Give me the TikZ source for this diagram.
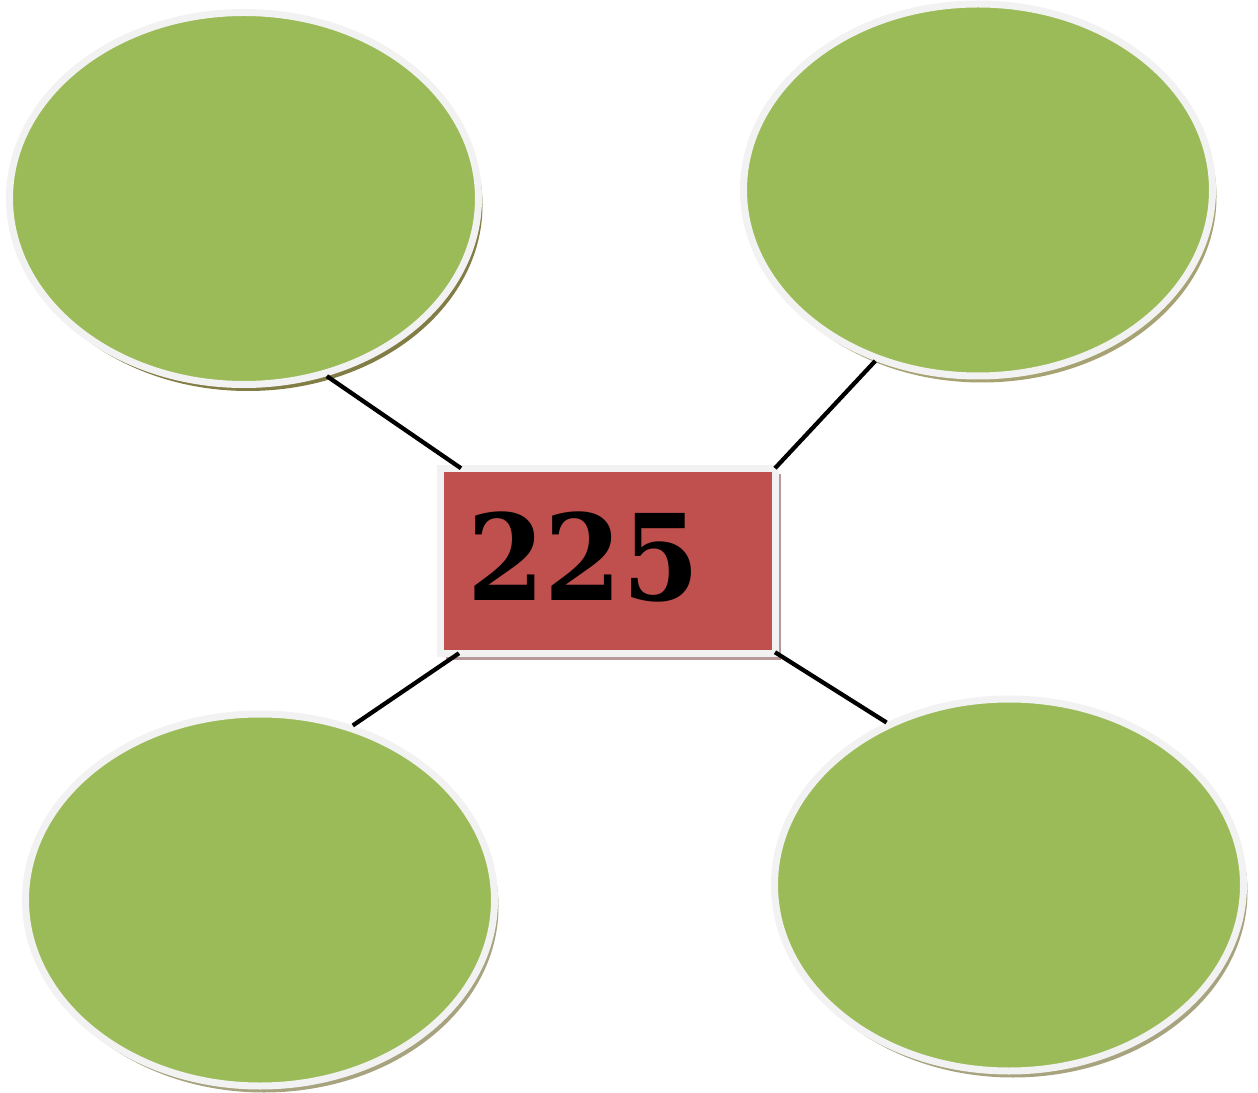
\documentclass[tikz,border=0pt]{standalone}
\usepackage{fontspec}
\usepackage{tikz}
\usetikzlibrary{shapes.geometric,shadows}
\newfontfamily\numfont{DejaVu Serif}
\definecolor{bubblegreen}{HTML}{9BBB59}
\definecolor{boxred}{HTML}{C0504D}
\definecolor{rimgray}{HTML}{F2F2F2}
\tikzset{
    bubble/.style={ellipse, fill=bubblegreen, draw=rimgray, line width=0.14cm,
        minimum width=9.38cm, minimum height=7.44cm, inner sep=0pt,
        drop shadow={shadow xshift=0.08cm, shadow yshift=-0.13cm, fill=#1, opacity=1}},
    bubble/.default={olive!60!black!80},
    numbox/.style={rectangle, fill=boxred, draw=rimgray, line width=0.14cm,
        minimum width=6.7cm, minimum height=3.71cm, inner sep=0pt,
        drop shadow={shadow xshift=0.1cm, shadow yshift=-0.12cm, fill=boxred!40!gray!70, opacity=1}},
    link/.style={black, line width=0.085cm},
}
\begin{document}
\begin{tikzpicture}
\useasboundingbox (0,0) rectangle (25.16,-21.86);

\node[bubble] (tl) at (4.88,-3.97) {};
\node[bubble=olive!40!gray!80] (tr) at (19.56,-3.80) {};
\node[bubble=olive!30!gray!80] (bl) at (5.20,-18.00) {};
\node[bubble=olive!30!gray!80] (br) at (20.18,-17.70) {};

\node[numbox] (box) at (12.16,-11.22) {};
\node[anchor=base west, inner sep=0pt, xscale=0.93] (num) at (9.34,-12.00)
    {\fontsize{68}{68}\selectfont\numfont\bfseries 225};

\draw[link] (tl.-65) -- ([xshift=0.48cm, yshift=-0.07cm]box.north west);
\draw[link] (tr.-121) -- ([xshift=-0.08cm, yshift=-0.07cm]box.north east);
\draw[link] (bl.62) -- ([xshift=0.44cm, yshift=0.08cm]box.south west);
\draw[link] (br.127) -- ([xshift=-0.08cm, yshift=0.1cm]box.south east);
\end{tikzpicture}
\end{document}
